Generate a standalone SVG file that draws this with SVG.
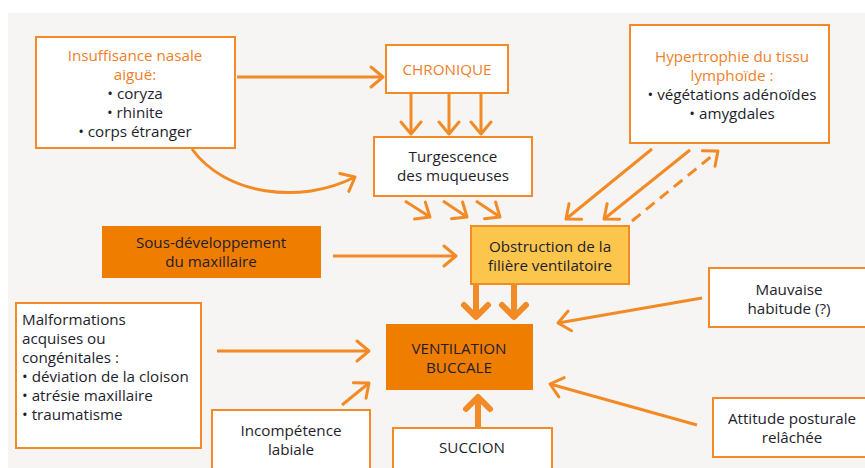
<svg xmlns="http://www.w3.org/2000/svg" width="865" height="468" viewBox="0 0 865 468">
<defs>
<style>
text{font-family:"Open Sans","Noto Sans","Liberation Sans",sans-serif;font-size:15.2px;fill:#1e1e2c;text-anchor:middle}
.or{fill:#f07f2a}
.lt{text-anchor:start}
.box{fill:#fff;stroke:#f28a25;stroke-width:2}
.fill{fill:#ef7d00}
.yel{fill:#fcc54c;stroke:#f28a25;stroke-width:2}
.ar{fill:none;stroke:#f28a25;stroke-width:3;marker-end:url(#h)}
.th{fill:none;stroke:#f28a25;stroke-width:6;marker-end:url(#H)}
.da{stroke-dasharray:11 7}
</style>
<marker id="h" markerUnits="userSpaceOnUse" markerWidth="30" markerHeight="30" viewBox="-15 -15 30 30" refX="0" refY="0" orient="auto" overflow="visible">
<path d="M-12,-10 L0,0 L-12,10" fill="none" stroke="#f28a25" stroke-width="3" stroke-linecap="round" stroke-linejoin="round"/>
</marker>
<marker id="H" markerUnits="userSpaceOnUse" markerWidth="36" markerHeight="36" viewBox="-18 -18 36 36" refX="0" refY="0" orient="auto" overflow="visible">
<path d="M-12,-12 L0,0 L-12,12" fill="none" stroke="#f28a25" stroke-width="6" stroke-linecap="round" stroke-linejoin="round"/>
</marker>
</defs>
<rect x="0" y="0" width="865" height="468" fill="#fff"/>
<rect x="8" y="13" width="857" height="455" fill="#f6f5f4"/>

<g id="connectors">
<line class="ar" x1="237" y1="77" x2="383" y2="77"/>
<path class="ar" d="M192,149 C225,195 300,205 355,177"/>
<line class="ar" x1="411" y1="94" x2="411" y2="134"/>
<line class="ar" x1="449" y1="94" x2="449" y2="134"/>
<line class="ar" x1="481" y1="94" x2="481" y2="134"/>
<line class="ar" x1="405" y1="201" x2="430" y2="217"/>
<line class="ar" x1="443" y1="201" x2="467" y2="217"/>
<line class="ar" x1="476" y1="201" x2="500" y2="217"/>
<line class="ar" x1="652" y1="149" x2="566" y2="219"/>
<line class="ar" x1="690" y1="150" x2="604" y2="219"/>
<line class="ar da" x1="632" y1="221" x2="718" y2="151"/>
<line class="ar" x1="333" y1="256" x2="456" y2="256"/>
<line class="th" x1="476" y1="285" x2="476" y2="317"/>
<line class="th" x1="514" y1="285" x2="514" y2="317"/>
<line class="ar" x1="217" y1="351" x2="369" y2="351"/>
<line class="ar" x1="342" y1="405" x2="369" y2="383"/>
<line class="th" x1="478" y1="428" x2="478" y2="397"/>
<line class="ar" x1="702" y1="298" x2="558" y2="323"/>
<line class="ar" x1="697" y1="425" x2="550" y2="384"/>
</g>

<g id="insuffisance">
<rect class="box" x="36" y="37" width="199" height="111"/>
<text x="135" y="61" class="or">Insuffisance nasale</text>
<text x="135" y="80" class="or">aiguë:</text>
<text x="135" y="99">• coryza</text>
<text x="135" y="118">• rhinite</text>
<text x="135" y="137">• corps étranger</text>
</g>

<g id="chronique">
<rect class="box" x="386" y="45" width="122" height="48"/>
<text x="447" y="75" class="or">CHRONIQUE</text>
</g>

<g id="turgescence">
<rect class="box" x="374" y="137" width="158" height="59"/>
<text x="453" y="162">Turgescence</text>
<text x="453" y="181">des muqueuses</text>
</g>

<g id="hypertrophie">
<rect class="box" x="630" y="25" width="199" height="118"/>
<text x="732" y="62" class="or">Hypertrophie du tissu</text>
<text x="732" y="81" class="or">lymphoïde :</text>
<text x="732" y="100">• végétations adénoïdes</text>
<text x="732" y="119">• amygdales</text>
</g>

<g id="sous-developpement">
<rect class="fill" x="102" y="226" width="219" height="52"/>
<text x="211" y="248">Sous-développement</text>
<text x="211" y="267">du maxillaire</text>
</g>

<g id="obstruction">
<rect class="yel" x="471" y="226" width="158" height="58"/>
<text x="550" y="252">Obstruction de la</text>
<text x="550" y="271">filière ventilatoire</text>
</g>

<g id="ventilation">
<rect class="fill" x="386" y="324" width="147" height="66"/>
<text x="459" y="354">VENTILATION</text>
<text x="459" y="373">BUCCALE</text>
</g>

<g id="malformations">
<rect class="box" x="16" y="303" width="185" height="145"/>
<text x="22" y="325" class="lt">Malformations</text>
<text x="22" y="344" class="lt">acquises ou</text>
<text x="22" y="363" class="lt">congénitales :</text>
<text x="22" y="382" class="lt">• déviation de la cloison</text>
<text x="22" y="401" class="lt">• atrésie maxillaire</text>
<text x="22" y="420" class="lt">• traumatisme</text>
</g>

<g id="incompetence">
<rect class="box" x="212" y="410" width="158" height="62"/>
<text x="291" y="436">Incompétence</text>
<text x="291" y="455">labiale</text>
</g>

<g id="succion">
<rect class="box" x="393" y="428" width="159" height="44"/>
<text x="472" y="453">SUCCION</text>
</g>

<g id="mauvaise">
<rect class="box" x="709" y="268" width="160" height="59"/>
<text x="789" y="295">Mauvaise</text>
<text x="789" y="314">habitude (?)</text>
</g>

<g id="attitude">
<rect class="box" x="713" y="398" width="156" height="59"/>
<text x="792" y="424">Attitude posturale</text>
<text x="792" y="443">relâchée</text>
</g>
</svg>
